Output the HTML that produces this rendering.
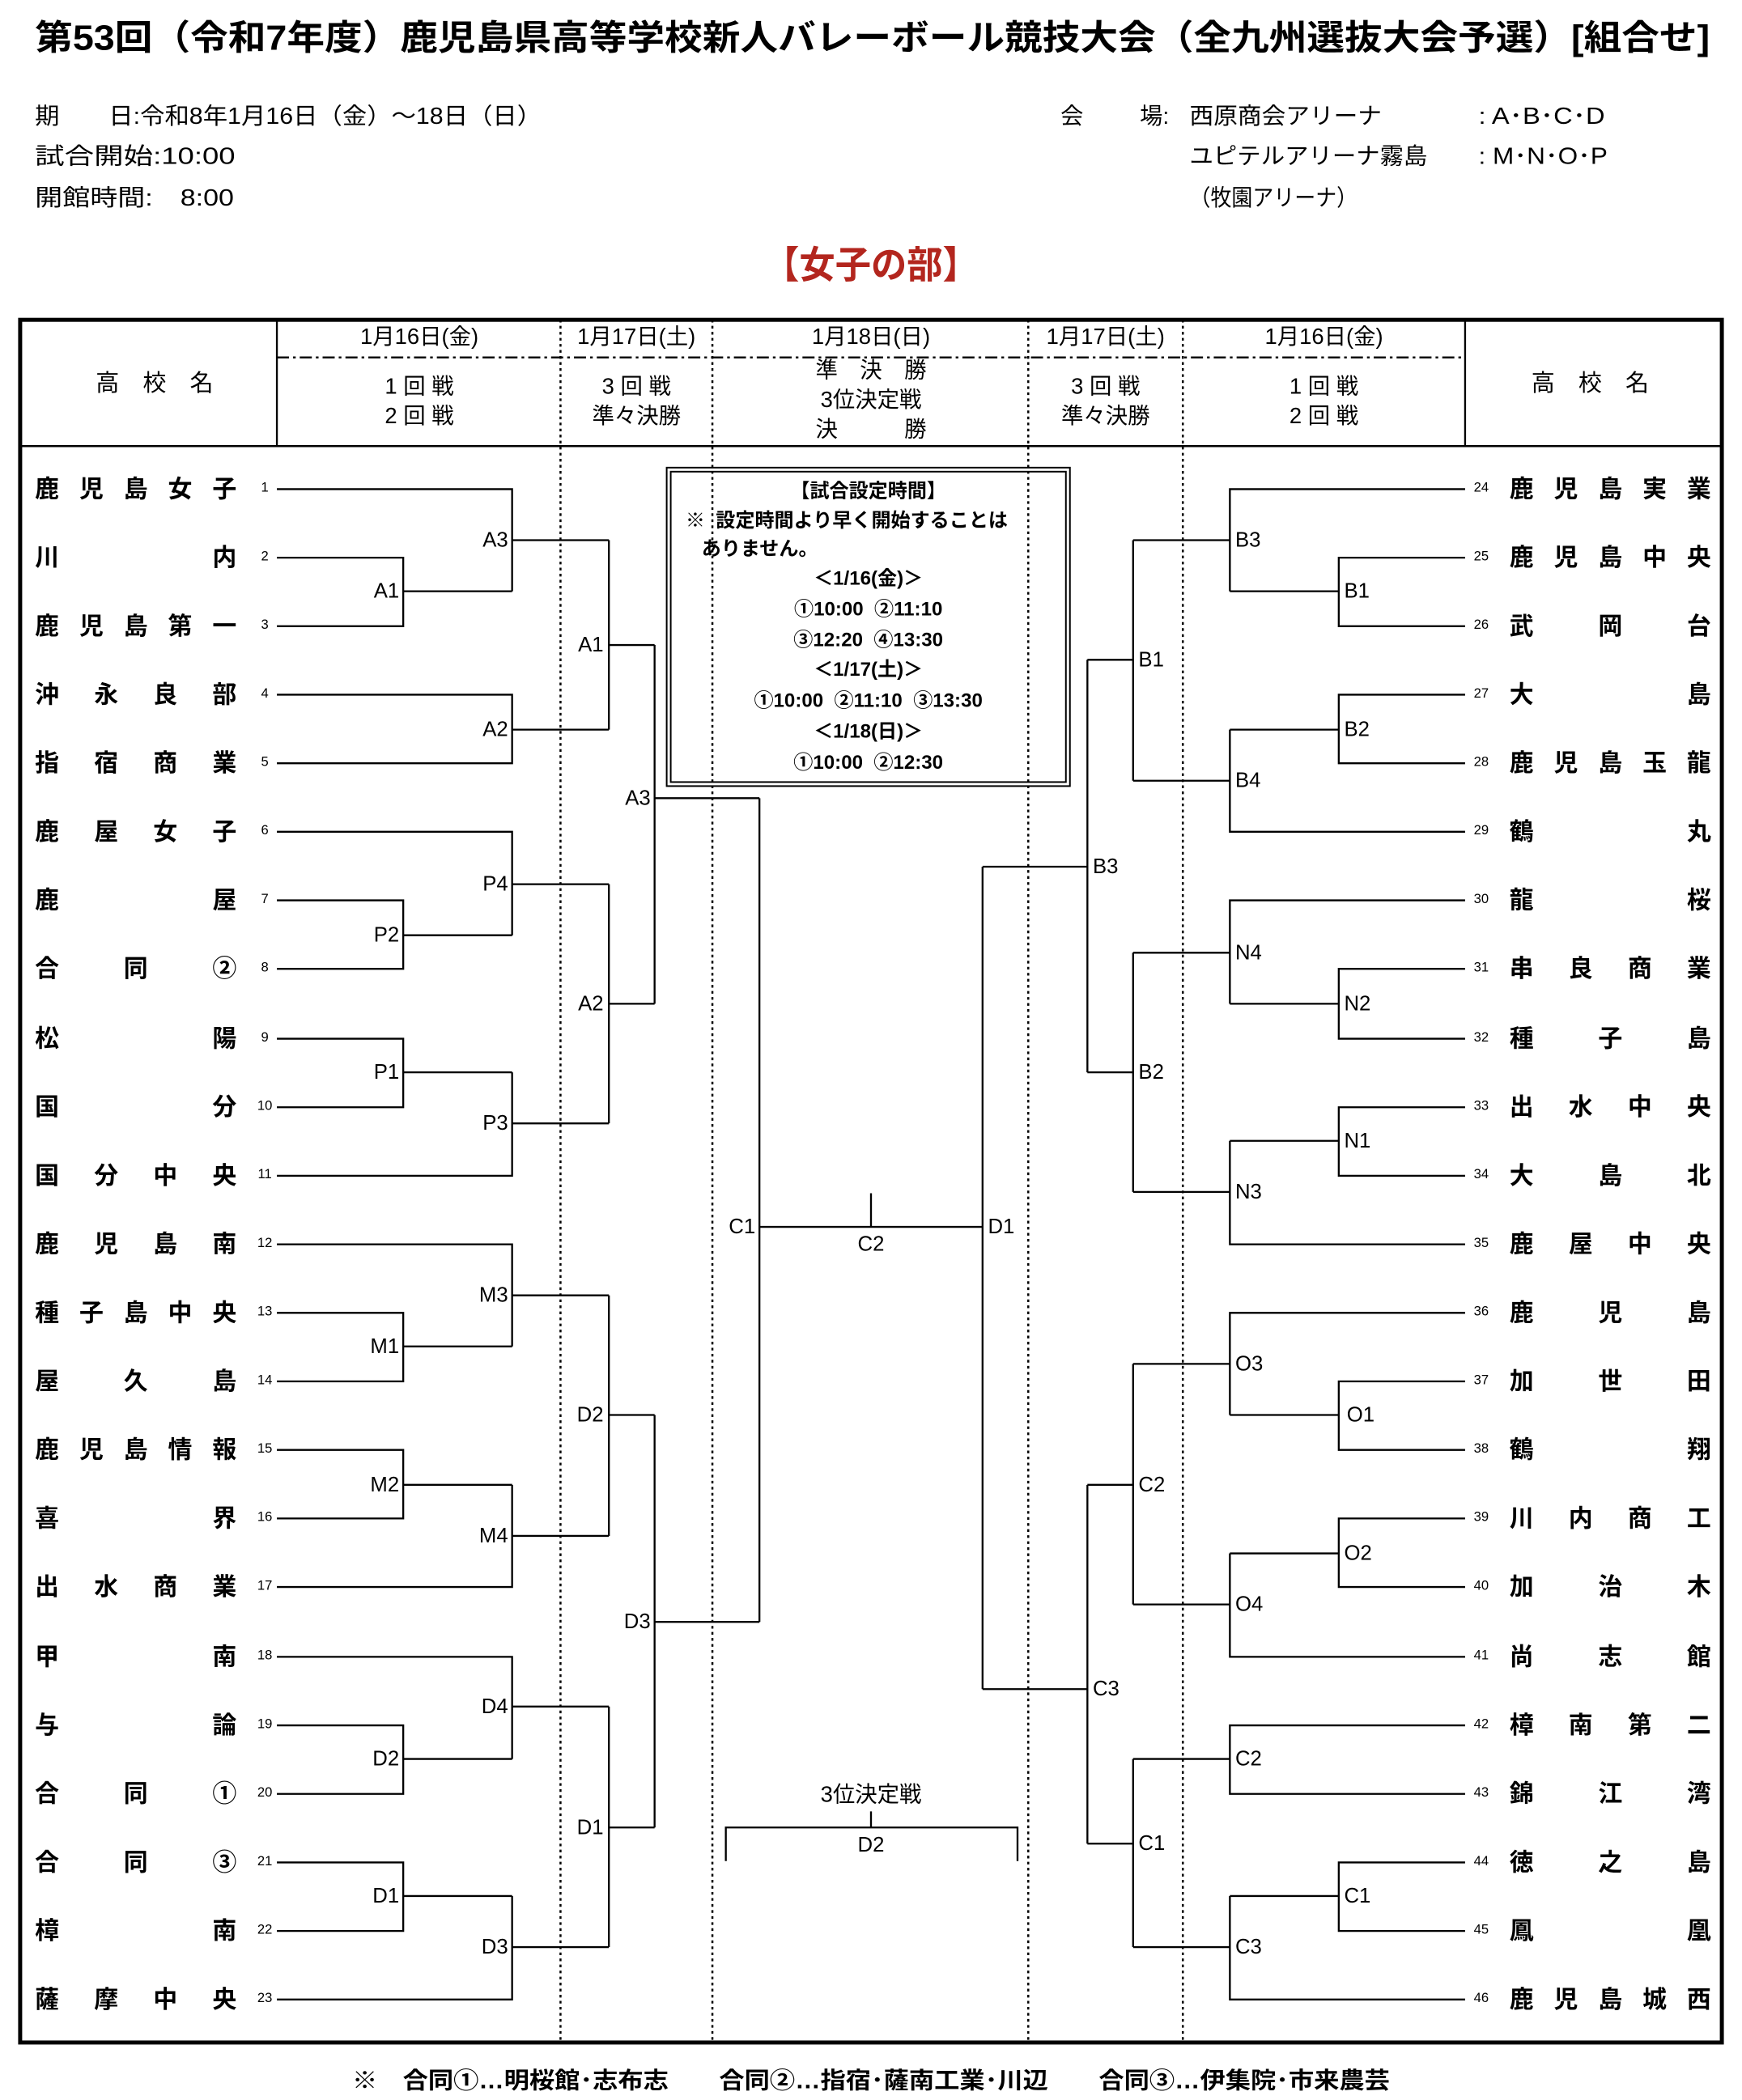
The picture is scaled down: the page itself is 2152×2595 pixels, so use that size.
<!DOCTYPE html>
<html><head><meta charset="utf-8">
<style>
html,body{margin:0;padding:0;background:#fff;}
body{width:2152px;height:2595px;overflow:hidden;position:relative;}
#w{position:absolute;left:0;top:0;width:1296px;height:1563px;transform:scale(1.66049);transform-origin:0 0;font-family:"Liberation Sans","Noto Sans CJK JP",sans-serif;color:#000;}
.a{position:absolute;white-space:nowrap;line-height:1;}
.nm{position:absolute;width:150px;height:20px;display:flex;justify-content:space-between;font-weight:bold;font-size:18px;line-height:20px;}
.num{position:absolute;font-size:10px;line-height:10px;width:14px;text-align:center;}
.h{position:absolute;font-size:16.5px;line-height:22px;text-align:center;}
.bx{position:absolute;font-weight:bold;font-size:14.5px;line-height:22.8px;}
</style></head><body><div id="w">
<svg style="position:absolute;left:0;top:0" width="1296" height="220" viewBox="0 0 1296 220" font-family="Liberation Sans, Noto Sans CJK JP, sans-serif">
<text x="26" y="37" font-size="26" font-weight="bold" textLength="1246" lengthAdjust="spacingAndGlyphs">第53回（令和7年度）鹿児島県高等学校新人バレーボール競技大会（全九州選抜大会予選）[組合せ]</text>
<g font-size="17">
<text x="26" y="92" textLength="377" lengthAdjust="spacingAndGlyphs">期　　日:令和8年1月16日（金）～18日（日）</text>
<text x="26" y="122" textLength="149" lengthAdjust="spacingAndGlyphs">試合開始:10:00</text>
<text x="26" y="153" textLength="148" lengthAdjust="spacingAndGlyphs">開館時間:　8:00</text>
<text x="789" y="92">会</text><text x="848" y="92">場:</text>
<text x="885" y="92" textLength="143" lengthAdjust="spacingAndGlyphs">西原商会アリーナ</text>
<text x="885" y="122" textLength="177" lengthAdjust="spacingAndGlyphs">ユピテルアリーナ霧島</text>
<text x="885" y="153" textLength="125" lengthAdjust="spacingAndGlyphs">（牧園アリーナ）</text>
<text x="1100" y="92" textLength="94" lengthAdjust="spacingAndGlyphs">: A･B･C･D</text>
<text x="1100" y="122" textLength="96" lengthAdjust="spacingAndGlyphs">: M･N･O･P</text>
</g>
<text x="568" y="207" font-size="28" font-weight="bold" fill="#b3261e" textLength="160" lengthAdjust="spacingAndGlyphs">【女子の部】</text>
</svg>

<svg style="position:absolute;left:0;top:0" width="1296" height="1563" viewBox="0 0 1296 1563">
<g fill="none" stroke="#000">
<rect x="15" y="238" width="1266" height="1282" stroke-width="3"/>
<line x1="15" y1="332" x2="1281" y2="332" stroke-width="1.5"/>
<line x1="206" y1="238" x2="206" y2="332" stroke-width="1.4"/>
<line x1="1090" y1="238" x2="1090" y2="332" stroke-width="1.4"/>
<line x1="206" y1="266" x2="1090" y2="266" stroke-width="1.5" stroke-dasharray="9 3 2 3"/>
<g stroke-width="1.5" stroke-dasharray="2 2.5">
<line x1="417" y1="238" x2="417" y2="1520"/>
<line x1="530" y1="238" x2="530" y2="1520"/>
<line x1="765" y1="238" x2="765" y2="1520"/>
<line x1="880" y1="238" x2="880" y2="1520"/>
</g>
<rect x="496" y="348" width="300" height="237" stroke-width="1.2"/>
<rect x="499" y="351" width="294" height="231" stroke-width="1.2"/>
<path stroke-width="1.4" d="
M206 415H300V466H206M300 440H381M206 364H381V440M381 402H453
M206 517H381V568H206M381 543H453
M453 402V543M453 480H487
M206 670H300V721H206M300 696H381M206 619H381V696M381 658H453
M206 773H300V824H206M300 798H381M206 875H381V798M381 836H453
M453 658V836M453 747H487
M487 480V747M487 594H565
M206 977H300V1028H206M300 1002H381M206 926H381V1002M381 964H453
M206 1079H300V1130H206M300 1105H381M206 1181H381V1105M381 1143H453
M453 964V1143M453 1053H487
M206 1284H300V1335H206M300 1309H381M206 1233H381V1309M381 1270H453
M206 1386H300V1437H206M300 1411H381M206 1488H381V1411M381 1449H453
M453 1270V1449M453 1360H487
M487 1053V1360M487 1207H565
M565 594V1207M565 913H731M648 888V913
M1090 415H996V466H1090M996 440H915M1090 364H915V440M915 402H843
M1090 517H996V568H1090M996 543H915M1090 619H915V543M915 581H843
M843 402V581M843 491H809
M1090 721H996V773H1090M996 747H915M1090 670H915V747M915 709H843
M1090 824H996V875H1090M996 849H915M1090 926H915V849M915 887H843
M843 709V887M843 798H809
M809 491V798M809 645H731
M1090 1028H996V1079H1090M996 1053H915M1090 977H915V1053M915 1015H843
M1090 1130H996V1181H1090M996 1156H915M1090 1233H915V1156M915 1194H843
M843 1015V1194M843 1105H809
M1090 1284H915V1335H1090M915 1309H843
M1090 1386H996V1437H1090M996 1411H915M1090 1488H915V1411M915 1449H843
M843 1309V1449M843 1372H809
M809 1105V1372M809 1257H731
M731 645V1257
M540 1385V1360H757V1385M648 1348V1360"/>
</g>
<g font-family="Liberation Sans, sans-serif" font-size="15.5" dominant-baseline="central">
<g text-anchor="end">
<text x="297" y="440">A1</text><text x="378" y="402">A3</text><text x="378" y="543">A2</text><text x="449" y="480">A1</text>
<text x="297" y="696">P2</text><text x="378" y="658">P4</text><text x="297" y="798">P1</text><text x="378" y="836">P3</text><text x="449" y="747">A2</text><text x="484" y="594">A3</text>
<text x="297" y="1002">M1</text><text x="378" y="964">M3</text><text x="297" y="1105">M2</text><text x="378" y="1143">M4</text><text x="449" y="1053">D2</text>
<text x="297" y="1309">D2</text><text x="378" y="1270">D4</text><text x="297" y="1411">D1</text><text x="378" y="1449">D3</text><text x="449" y="1360">D1</text><text x="484" y="1207">D3</text>
<text x="562" y="913">C1</text>
</g>
<g text-anchor="start">
<text x="1000" y="440">B1</text><text x="919" y="402">B3</text><text x="1000" y="543">B2</text><text x="919" y="581">B4</text><text x="847" y="491">B1</text>
<text x="1000" y="747">N2</text><text x="919" y="709">N4</text><text x="1000" y="849">N1</text><text x="919" y="887">N3</text><text x="847" y="798">B2</text><text x="813" y="645">B3</text>
<text x="1002" y="1053">O1</text><text x="919" y="1015">O3</text><text x="1000" y="1156">O2</text><text x="919" y="1194">O4</text><text x="847" y="1105">C2</text>
<text x="919" y="1309">C2</text><text x="1000" y="1411">C1</text><text x="919" y="1449">C3</text><text x="847" y="1372">C1</text><text x="813" y="1257">C3</text>
<text x="735" y="913">D1</text>
</g>
<g text-anchor="middle">
<text x="648" y="926">C2</text><text x="648" y="1373">D2</text>
</g>
</g>
<text x="648" y="1335" text-anchor="middle" dominant-baseline="central" font-family="Liberation Sans, Noto Sans CJK JP, sans-serif" font-size="16.5">3位決定戦</text>
<text x="262" y="1554" font-family="Liberation Sans, Noto Sans CJK JP, sans-serif" font-size="17" font-weight="bold" textLength="772" lengthAdjust="spacingAndGlyphs">※　合同①…明桜館･志布志　　合同②…指宿･薩南工業･川辺　　合同③…伊集院･市来農芸</text>
</svg>

<div class="h" style="left:212px;top:240px;width:200px">1月16日(金)</div>
<div class="h" style="left:417px;top:240px;width:113px">1月17日(土)</div>
<div class="h" style="left:548px;top:240px;width:200px">1月18日(日)</div>
<div class="h" style="left:765px;top:240px;width:115px">1月17日(土)</div>
<div class="h" style="left:885px;top:240px;width:200px">1月16日(金)</div>
<div class="h" style="left:212px;top:277px;width:200px">1 回 戦<br>2 回 戦</div>
<div class="h" style="left:417px;top:277px;width:113px">3 回 戦<br>準々決勝</div>
<div class="h" style="left:548px;top:265px;width:200px">準　決　勝<br>3位決定戦<br>決　　　勝</div>
<div class="h" style="left:765px;top:277px;width:115px">3 回 戦<br>準々決勝</div>
<div class="h" style="left:885px;top:277px;width:200px">1 回 戦<br>2 回 戦</div>
<div class="h" style="left:15px;top:274px;width:200px;font-size:17.5px">高　校　名</div>
<div class="h" style="left:1083px;top:274px;width:200px;font-size:17.5px">高　校　名</div>

<div class="bx" style="left:499px;top:355px;width:294px;text-align:center">【試合設定時間】</div>
<div class="bx" style="left:510px;top:377px">※&nbsp; 設定時間より早く開始することは</div>
<div class="bx" style="left:522px;top:398px">ありません。</div>
<div class="bx" style="left:499px;top:420px;width:294px;text-align:center">＜1/16(金)＞<br>①10:00&nbsp; ②11:10<br>③12:20&nbsp; ④13:30<br>＜1/17(土)＞<br>①10:00&nbsp; ②11:10&nbsp; ③13:30<br>＜1/18(日)＞<br>①10:00&nbsp; ②12:30</div>

<div class="nm" style="left:26px;top:354px"><span>鹿</span><span>児</span><span>島</span><span>女</span><span>子</span></div>
<div class="nm" style="left:26px;top:405px"><span>川</span><span>内</span></div>
<div class="nm" style="left:26px;top:456px"><span>鹿</span><span>児</span><span>島</span><span>第</span><span>一</span></div>
<div class="nm" style="left:26px;top:507px"><span>沖</span><span>永</span><span>良</span><span>部</span></div>
<div class="nm" style="left:26px;top:558px"><span>指</span><span>宿</span><span>商</span><span>業</span></div>
<div class="nm" style="left:26px;top:609px"><span>鹿</span><span>屋</span><span>女</span><span>子</span></div>
<div class="nm" style="left:26px;top:660px"><span>鹿</span><span>屋</span></div>
<div class="nm" style="left:26px;top:711px"><span>合</span><span>同</span><span>②</span></div>
<div class="nm" style="left:26px;top:763px"><span>松</span><span>陽</span></div>
<div class="nm" style="left:26px;top:814px"><span>国</span><span>分</span></div>
<div class="nm" style="left:26px;top:865px"><span>国</span><span>分</span><span>中</span><span>央</span></div>
<div class="nm" style="left:26px;top:916px"><span>鹿</span><span>児</span><span>島</span><span>南</span></div>
<div class="nm" style="left:26px;top:967px"><span>種</span><span>子</span><span>島</span><span>中</span><span>央</span></div>
<div class="nm" style="left:26px;top:1018px"><span>屋</span><span>久</span><span>島</span></div>
<div class="nm" style="left:26px;top:1069px"><span>鹿</span><span>児</span><span>島</span><span>情</span><span>報</span></div>
<div class="nm" style="left:26px;top:1120px"><span>喜</span><span>界</span></div>
<div class="nm" style="left:26px;top:1171px"><span>出</span><span>水</span><span>商</span><span>業</span></div>
<div class="nm" style="left:26px;top:1223px"><span>甲</span><span>南</span></div>
<div class="nm" style="left:26px;top:1274px"><span>与</span><span>論</span></div>
<div class="nm" style="left:26px;top:1325px"><span>合</span><span>同</span><span>①</span></div>
<div class="nm" style="left:26px;top:1376px"><span>合</span><span>同</span><span>③</span></div>
<div class="nm" style="left:26px;top:1427px"><span>樟</span><span>南</span></div>
<div class="nm" style="left:26px;top:1478px"><span>薩</span><span>摩</span><span>中</span><span>央</span></div>

<div class="nm" style="left:1123px;top:354px"><span>鹿</span><span>児</span><span>島</span><span>実</span><span>業</span></div>
<div class="nm" style="left:1123px;top:405px"><span>鹿</span><span>児</span><span>島</span><span>中</span><span>央</span></div>
<div class="nm" style="left:1123px;top:456px"><span>武</span><span>岡</span><span>台</span></div>
<div class="nm" style="left:1123px;top:507px"><span>大</span><span>島</span></div>
<div class="nm" style="left:1123px;top:558px"><span>鹿</span><span>児</span><span>島</span><span>玉</span><span>龍</span></div>
<div class="nm" style="left:1123px;top:609px"><span>鶴</span><span>丸</span></div>
<div class="nm" style="left:1123px;top:660px"><span>龍</span><span>桜</span></div>
<div class="nm" style="left:1123px;top:711px"><span>串</span><span>良</span><span>商</span><span>業</span></div>
<div class="nm" style="left:1123px;top:763px"><span>種</span><span>子</span><span>島</span></div>
<div class="nm" style="left:1123px;top:814px"><span>出</span><span>水</span><span>中</span><span>央</span></div>
<div class="nm" style="left:1123px;top:865px"><span>大</span><span>島</span><span>北</span></div>
<div class="nm" style="left:1123px;top:916px"><span>鹿</span><span>屋</span><span>中</span><span>央</span></div>
<div class="nm" style="left:1123px;top:967px"><span>鹿</span><span>児</span><span>島</span></div>
<div class="nm" style="left:1123px;top:1018px"><span>加</span><span>世</span><span>田</span></div>
<div class="nm" style="left:1123px;top:1069px"><span>鶴</span><span>翔</span></div>
<div class="nm" style="left:1123px;top:1120px"><span>川</span><span>内</span><span>商</span><span>工</span></div>
<div class="nm" style="left:1123px;top:1171px"><span>加</span><span>治</span><span>木</span></div>
<div class="nm" style="left:1123px;top:1223px"><span>尚</span><span>志</span><span>館</span></div>
<div class="nm" style="left:1123px;top:1274px"><span>樟</span><span>南</span><span>第</span><span>二</span></div>
<div class="nm" style="left:1123px;top:1325px"><span>錦</span><span>江</span><span>湾</span></div>
<div class="nm" style="left:1123px;top:1376px"><span>徳</span><span>之</span><span>島</span></div>
<div class="nm" style="left:1123px;top:1427px"><span>鳳</span><span>凰</span></div>
<div class="nm" style="left:1123px;top:1478px"><span>鹿</span><span>児</span><span>島</span><span>城</span><span>西</span></div>

<div class="num" style="left:190px;top:359px">1</div><div class="num" style="left:190px;top:410px">2</div><div class="num" style="left:190px;top:461px">3</div><div class="num" style="left:190px;top:512px">4</div><div class="num" style="left:190px;top:563px">5</div><div class="num" style="left:190px;top:614px">6</div><div class="num" style="left:190px;top:665px">7</div><div class="num" style="left:190px;top:716px">8</div><div class="num" style="left:190px;top:768px">9</div><div class="num" style="left:190px;top:819px">10</div><div class="num" style="left:190px;top:870px">11</div><div class="num" style="left:190px;top:921px">12</div><div class="num" style="left:190px;top:972px">13</div><div class="num" style="left:190px;top:1023px">14</div><div class="num" style="left:190px;top:1074px">15</div><div class="num" style="left:190px;top:1125px">16</div><div class="num" style="left:190px;top:1176px">17</div><div class="num" style="left:190px;top:1228px">18</div><div class="num" style="left:190px;top:1279px">19</div><div class="num" style="left:190px;top:1330px">20</div><div class="num" style="left:190px;top:1381px">21</div><div class="num" style="left:190px;top:1432px">22</div><div class="num" style="left:190px;top:1483px">23</div>
<div class="num" style="left:1095px;top:359px">24</div><div class="num" style="left:1095px;top:410px">25</div><div class="num" style="left:1095px;top:461px">26</div><div class="num" style="left:1095px;top:512px">27</div><div class="num" style="left:1095px;top:563px">28</div><div class="num" style="left:1095px;top:614px">29</div><div class="num" style="left:1095px;top:665px">30</div><div class="num" style="left:1095px;top:716px">31</div><div class="num" style="left:1095px;top:768px">32</div><div class="num" style="left:1095px;top:819px">33</div><div class="num" style="left:1095px;top:870px">34</div><div class="num" style="left:1095px;top:921px">35</div><div class="num" style="left:1095px;top:972px">36</div><div class="num" style="left:1095px;top:1023px">37</div><div class="num" style="left:1095px;top:1074px">38</div><div class="num" style="left:1095px;top:1125px">39</div><div class="num" style="left:1095px;top:1176px">40</div><div class="num" style="left:1095px;top:1228px">41</div><div class="num" style="left:1095px;top:1279px">42</div><div class="num" style="left:1095px;top:1330px">43</div><div class="num" style="left:1095px;top:1381px">44</div><div class="num" style="left:1095px;top:1432px">45</div><div class="num" style="left:1095px;top:1483px">46</div>
</div></body></html>
